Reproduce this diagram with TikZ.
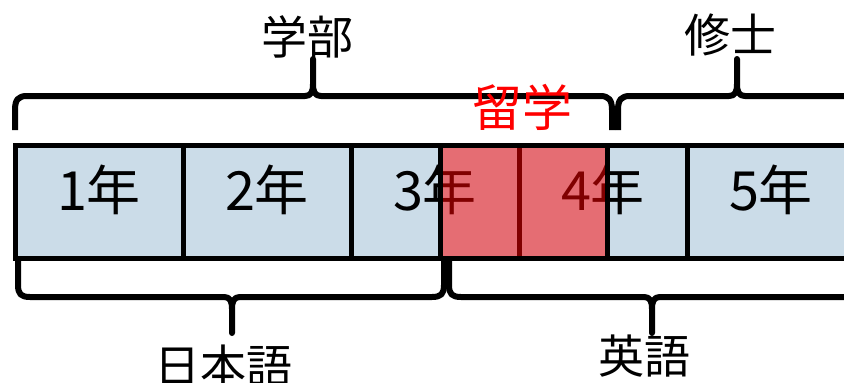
\documentclass[tikz,border=0pt]{standalone}
\usepackage{fontspec}
\setmainfont{Noto Sans CJK JP}
\definecolor{cellblue}{RGB}{203,220,232}
\newcommand\BraceUp[3]{% L R M
  \draw[brace] (#1,130) -- (#1,110) .. controls (#1,100) and ({#1+3},96) .. ({#1+12},96)
    -- ({#3-8},96) .. controls ({#3-2},96) and (#3,92) .. (#3,84) -- (#3,59) -- (#3,84)
    .. controls (#3,92) and ({#3+2},96) .. ({#3+8},96)
    -- ({#2-12},96) .. controls ({#2-3},96) and (#2,100) .. (#2,110) -- (#2,130);}
\newcommand\BraceDown[3]{% L R M
  \draw[brace] (#1,257) -- (#1,285) .. controls (#1,294) and ({#1+3},297) .. ({#1+12},297)
    -- ({#3-8},297) .. controls ({#3-2},297) and (#3,301) .. (#3,309) -- (#3,333) -- (#3,309)
    .. controls (#3,301) and ({#3+2},297) .. ({#3+8},297)
    -- ({#2-12},297) .. controls ({#2-3},297) and (#2,294) .. (#2,285) -- (#2,257);}
\begin{document}
\begin{tikzpicture}[x=1pt,y=-1pt,
  cell/.style={draw=black, line width=5pt, fill=cellblue, minimum width=168pt,
    minimum height=113pt, anchor=north west, inner sep=0pt, outer sep=0pt},
  brace/.style={draw=black, line width=6pt, line join=round},
  yearlbl/.style={font=\fontsize{54}{60}\selectfont, inner sep=0pt},
  lbl/.style={font=\fontsize{46}{50}\selectfont, inner sep=0pt}]
\useasboundingbox (0,0) rectangle (844,383);
\clip (0,0) rectangle (844,383);
\fill[white] (0,0) rectangle (844,383);
% year cells
\node[cell] (y1) at (15,145) {};
\node[cell] (y2) at (183,145) {};
\node[cell] (y3) at (351,145) {};
\node[cell] (y4) at (519,145) {};
\node[cell] (y5) at (687,145) {};
\node[yearlbl] (t1) at ([yshift=12pt]y1.center) {1年};
\node[yearlbl] (t2) at ([yshift=12pt]y2.center) {2年};
\node[yearlbl] (t3) at ([yshift=12pt]y3.center) {3年};
\node[yearlbl] (t4) at ([yshift=12pt]y4.center) {4年};
\node[yearlbl] (t5) at ([yshift=12pt]y5.center) {5年};
% study abroad overlay
\node[draw=black, line width=5pt, fill=red, fill opacity=0.5, minimum width=167pt,
  minimum height=113pt, anchor=north west, inner sep=0pt, outer sep=0pt] (abroad) at (440,145) {};
% braces
\BraceUp{15}{612}{313}
\BraceUp{618}{920}{737}
\BraceDown{18}{444}{232}
\BraceDown{449}{920}{652}
% labels
\node[lbl] (gakubu) at (307,37) {学部};
\node[lbl] (shushi) at (730,35) {修士};
\node[lbl, text=red, font=\fontsize{50}{54}\selectfont] (ryugaku) at (522,107) {留学};
\node[lbl] (nihongo) at (223,366) {日本語};
\node[lbl] (eigo) at (644,356) {英語};
\end{tikzpicture}
\end{document}
